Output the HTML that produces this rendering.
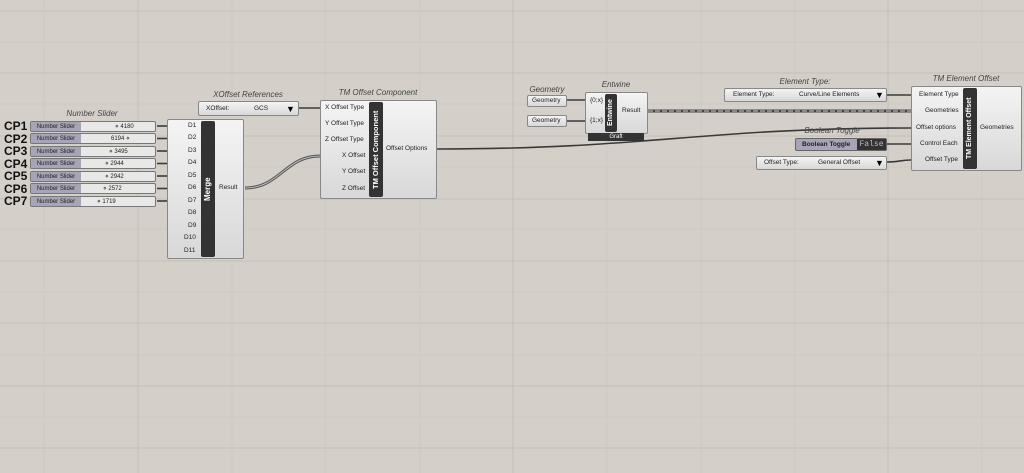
<!DOCTYPE html>
<html><head><meta charset="utf-8"><style>
*{margin:0;padding:0;box-sizing:border-box}
body{width:1024px;height:473px;overflow:hidden;background:#d4d0c9;position:relative;font-family:"Liberation Sans",sans-serif;}
.grid{position:absolute;left:0;top:0}
.a{position:absolute}
.t{position:absolute;font-style:italic;font-size:8px;color:#444;white-space:nowrap;transform:translateX(-50%)}
.box{position:absolute;background:linear-gradient(#f4f4f4,#d8d8d8);border:1px solid #888;border-radius:2px}
.bar{position:absolute;background:#333;color:#fff;font-weight:bold;font-size:8px;writing-mode:vertical-rl;transform:rotate(180deg);text-align:center;line-height:14px;border-radius:2px}
.lbl{position:absolute;font-size:6.5px;color:#222;white-space:nowrap}
.cp{position:absolute;font-size:12px;font-weight:bold;color:#111;left:4px}
.sl{position:absolute;left:30px;width:126px;height:11px;border:1px solid #777;border-radius:2px;background:#e8e8e8;font-size:6px}
.sl .l{position:absolute;left:0;top:0;width:50px;height:9px;background:#a6a4b6;line-height:10px;text-align:center;color:#222}
.sl .v{position:absolute;top:0;line-height:10px;color:#222}
</style></head><body>
<svg class="grid" width="1024" height="473">
<g stroke="#cdc9c2" stroke-width="1">
<line x1="44" y1="0" x2="44" y2="473"/><line x1="232" y1="0" x2="232" y2="473"/><line x1="325" y1="0" x2="325" y2="473"/><line x1="420" y1="0" x2="420" y2="473"/><line x1="607" y1="0" x2="607" y2="473"/><line x1="701" y1="0" x2="701" y2="473"/><line x1="795" y1="0" x2="795" y2="473"/><line x1="982" y1="0" x2="982" y2="473"/>
<line x1="0" y1="42" x2="1024" y2="42"/><line x1="0" y1="104" x2="1024" y2="104"/><line x1="0" y1="167" x2="1024" y2="167"/><line x1="0" y1="229" x2="1024" y2="229"/><line x1="0" y1="292" x2="1024" y2="292"/><line x1="0" y1="355" x2="1024" y2="355"/><line x1="0" y1="417" x2="1024" y2="417"/>
</g>
<g stroke="#c4c0b9" stroke-width="1">
<line x1="138" y1="0" x2="138" y2="473"/><line x1="513" y1="0" x2="513" y2="473"/><line x1="888" y1="0" x2="888" y2="473"/>
<line x1="0" y1="11" x2="1024" y2="11"/><line x1="0" y1="73" x2="1024" y2="73"/><line x1="0" y1="136" x2="1024" y2="136"/><line x1="0" y1="199" x2="1024" y2="199"/><line x1="0" y1="261" x2="1024" y2="261"/><line x1="0" y1="323" x2="1024" y2="323"/><line x1="0" y1="386" x2="1024" y2="386"/><line x1="0" y1="448" x2="1024" y2="448"/>
</g>
<g stroke="#3a3a3a" stroke-width="1.6" fill="none">
<line x1="157" y1="126" x2="167" y2="126"/><line x1="157" y1="138.5" x2="167" y2="138.5"/><line x1="157" y1="151" x2="167" y2="151"/><line x1="157" y1="163.5" x2="167" y2="163.5"/><line x1="157" y1="176" x2="167" y2="176"/><line x1="157" y1="188.5" x2="167" y2="188.5"/><line x1="157" y1="201" x2="167" y2="201"/>
<line x1="299" y1="108" x2="320" y2="108"/>
<path d="M245 188 C280 188,285 156,320 156" stroke="#555" stroke-width="3"/>
<path d="M245 188 C280 188,285 156,320 156" stroke="#bbb" stroke-width="1"/>
<path d="M437 149 C650 149,700 128,911 128"/>
<line x1="887" y1="95" x2="911" y2="95"/>
<line x1="887" y1="144" x2="911" y2="144"/>
<path d="M887 162 C900 162,900 160,911 160"/>
<line x1="567" y1="100" x2="585" y2="100"/><line x1="567" y1="121" x2="585" y2="121"/>
<line x1="648" y1="111" x2="911" y2="111" stroke="#444" stroke-width="3"/>
<line x1="648" y1="111" x2="911" y2="111" stroke="#ccc" stroke-width="1" stroke-dasharray="5 2"/>
</g>
</svg>

<div class="t" style="left:92px;top:109px">Number Slider</div>
<div class="cp" style="top:119px">CP1</div><div class="cp" style="top:132px">CP2</div><div class="cp" style="top:144px">CP3</div><div class="cp" style="top:157px">CP4</div><div class="cp" style="top:169px">CP5</div><div class="cp" style="top:182px">CP6</div><div class="cp" style="top:194px">CP7</div>
<div class="sl" style="top:121px"><div class="l">Number Slider</div><div class="v" style="left:84px">⋄ 4180</div></div>
<div class="sl" style="top:133px"><div class="l">Number Slider</div><div class="v" style="left:80px">6194 ⋄</div></div>
<div class="sl" style="top:146px"><div class="l">Number Slider</div><div class="v" style="left:78px">⋄ 3495</div></div>
<div class="sl" style="top:158px"><div class="l">Number Slider</div><div class="v" style="left:74px">⋄ 2944</div></div>
<div class="sl" style="top:171px"><div class="l">Number Slider</div><div class="v" style="left:74px">⋄ 2942</div></div>
<div class="sl" style="top:183px"><div class="l">Number Slider</div><div class="v" style="left:72px">⋄ 2572</div></div>
<div class="sl" style="top:196px"><div class="l">Number Slider</div><div class="v" style="left:66px">⋄ 1719</div></div>

<div class="box" style="left:167px;top:119px;width:77px;height:140px"></div>
<div class="bar" style="left:201px;top:121px;width:14px;height:136px">Merge</div>
<div class="lbl" style="left:188px;top:122px">D1</div><div class="lbl" style="left:188px;top:134px">D2</div><div class="lbl" style="left:188px;top:147px">D3</div><div class="lbl" style="left:188px;top:159px">D4</div><div class="lbl" style="left:188px;top:172px">D5</div><div class="lbl" style="left:188px;top:184px">D6</div><div class="lbl" style="left:188px;top:197px">D7</div><div class="lbl" style="left:188px;top:209px">D8</div><div class="lbl" style="left:188px;top:222px">D9</div><div class="lbl" style="left:184px;top:234px">D10</div><div class="lbl" style="left:184px;top:247px">D11</div>
<div class="lbl" style="left:219px;top:184px">Result</div>

<div class="t" style="left:248px;top:90px">XOffset References</div>
<div class="box" style="left:198px;top:101px;width:101px;height:15px"></div>
<div class="lbl" style="left:206px;top:105px">XOffset:</div><div class="lbl" style="left:254px;top:105px">GCS</div><div class="a" style="left:286px;top:104px;font-size:9px">▼</div>

<div class="t" style="left:378px;top:88px">TM Offset Component</div>
<div class="box" style="left:320px;top:100px;width:117px;height:99px"></div>
<div class="bar" style="left:369px;top:102px;width:14px;height:95px;font-size:7.5px">TM Offset Component</div>
<div class="lbl" style="left:325px;top:104px">X Offset Type</div><div class="lbl" style="left:325px;top:120px">Y Offset Type</div><div class="lbl" style="left:325px;top:136px">Z Offset Type</div><div class="lbl" style="left:342px;top:152px">X Offset</div><div class="lbl" style="left:342px;top:168px">Y Offset</div><div class="lbl" style="left:342px;top:185px">Z Offset</div>
<div class="lbl" style="left:386px;top:145px">Offset Options</div>

<div class="t" style="left:547px;top:85px">Geometry</div>
<div class="box" style="left:527px;top:95px;width:40px;height:12px"></div><div class="lbl" style="left:532px;top:97px">Geometry</div>
<div class="box" style="left:527px;top:115px;width:40px;height:12px"></div><div class="lbl" style="left:532px;top:117px">Geometry</div>
<div class="t" style="left:616px;top:80px">Entwine</div>
<div class="box" style="left:585px;top:92px;width:63px;height:42px"></div>
<div class="a" style="left:588px;top:133px;width:56px;height:8px;background:#333;color:#fff;font-size:6px;text-align:center;line-height:8px">Graft</div>
<div class="bar" style="left:605px;top:94px;width:12px;height:38px;font-size:7px;line-height:12px">Entwine</div>
<div class="lbl" style="left:590px;top:97px">{0;x}</div><div class="lbl" style="left:590px;top:117px">{1;x}</div><div class="lbl" style="left:622px;top:107px">Result</div>

<div class="t" style="left:805px;top:77px">Element Type:</div>
<div class="box" style="left:724px;top:88px;width:163px;height:14px"></div>
<div class="lbl" style="left:733px;top:91px">Element Type:</div><div class="lbl" style="left:799px;top:91px">Curve/Line Elements</div><div class="a" style="left:875px;top:90px;font-size:9px">▼</div>

<div class="t" style="left:832px;top:126px">Boolean Toggle</div>
<div class="a" style="left:795px;top:138px;width:92px;height:13px;background:#a6a4b6;border:1px solid #666;border-radius:2px"></div>
<div class="lbl" style="left:802px;top:141px;font-weight:bold">Boolean Toggle</div>
<div class="a" style="left:857px;top:139px;width:29px;height:11px;background:#333;color:#bbb;font-family:'Liberation Mono',monospace;font-size:8px;line-height:11px;text-align:center">False</div>

<div class="box" style="left:756px;top:156px;width:131px;height:14px"></div>
<div class="lbl" style="left:764px;top:159px">Offset Type:</div><div class="lbl" style="left:818px;top:159px">General Offset</div><div class="a" style="left:875px;top:158px;font-size:9px">▼</div>

<div class="t" style="left:966px;top:74px">TM Element Offset</div>
<div class="box" style="left:911px;top:86px;width:111px;height:85px"></div>
<div class="bar" style="left:963px;top:88px;width:14px;height:81px;font-size:7px">TM Element Offset</div>
<div class="lbl" style="left:919px;top:91px">Element Type</div><div class="lbl" style="left:925px;top:107px">Geometries</div><div class="lbl" style="left:916px;top:124px">Offset options</div><div class="lbl" style="left:920px;top:140px">Control Each</div><div class="lbl" style="left:925px;top:156px">Offset Type</div>
<div class="lbl" style="left:980px;top:124px">Geometries</div>
</body></html>
